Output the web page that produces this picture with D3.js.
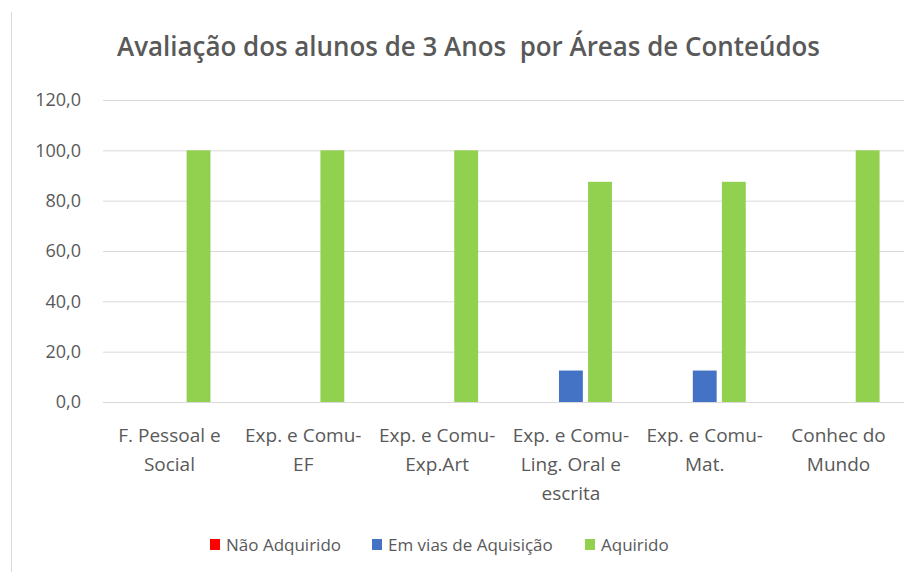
<!DOCTYPE html>
<html>
<head>
<meta charset="utf-8">
<script src="https://cdn.jsdelivr.net/npm/d3@7"></script>
<style>
  body { margin: 0; background: #fff; }
  text { font-family: "Open Sans", "Noto Sans", sans-serif; fill: #595959; }
</style>
</head>
<body>
<div id="chart"></div>
<script>
//data
var categories = [
    ["F. Pessoal e", "Social"],
    ["Exp. e Comu-", "EF"],
    ["Exp. e Comu-", "Exp.Art"],
    ["Exp. e Comu-", "Ling. Oral e", "escrita"],
    ["Exp. e Comu-", "Mat."],
    ["Conhec do", "Mundo"]
];
var seriesNames = ["Não Adquirido", "Em vias de Aquisição", "Aquirido"];
var naoAdquirido = [0, 0, 0, 0, 0, 0],
    emVias = [0, 0, 0, 12.5, 12.5, 0],
    aquirido = [100, 100, 100, 87.5, 87.5, 100];
var seriesColors = ["#ff0000", "#4472c4", "#92d050"];
var yTicks = [0, 20, 40, 60, 80, 100, 120];

var width = 904, height = 572,
    plotLeft = 103, plotRight = 905,
    plotTop = 100, plotBottom = 402;

var svg = d3.select("#chart")
    .append("svg")
    .attr("width", width)
    .attr("height", height);

//left border of the chart frame
svg.append("line")
    .attr("x1", 11.5).attr("x2", 11.5)
    .attr("y1", 12).attr("y2", height)
    .attr("stroke", "#d9d9d9");

//title (keeps the double space of the original)
svg.append("text")
    .attr("x", 468.5)
    .attr("y", 56)
    .attr("text-anchor", "middle")
    .style("font-size", "27px")
    .style("font-weight", "600")
    .style("white-space", "pre")
    .attr("textLength", 703)
    .attr("lengthAdjust", "spacingAndGlyphs")
    .text("Avaliação dos alunos de 3 Anos  por Áreas de Conteúdos");

var y = d3.scaleLinear()
    .domain([0, 120])
    .range([plotBottom, plotTop]);

var x0 = d3.scaleBand()
    .domain(d3.range(categories.length))
    .range([plotLeft, plotRight])
    .paddingInner(0.387)
    .paddingOuter(0.19);

var x1 = d3.scaleBand()
    .domain(d3.range(seriesNames.length))
    .range([0, x0.bandwidth()])
    .paddingInner(0.18)
    .paddingOuter(0);

//gridlines + y labels
var yAxis = svg.append("g")
    .attr("transform", "translate(" + plotLeft + ",0)")
    .call(d3.axisLeft(y)
        .tickValues(yTicks)
        .tickSize(-(plotRight - plotLeft))
        .tickPadding(22)
        .tickFormat(function(d) { return d.toFixed(1).replace(".", ","); }));
yAxis.select(".domain").remove();
yAxis.selectAll("line").attr("stroke", "#d9d9d9");
yAxis.selectAll("text")
    .style("font-size", "18px")
    .style("font-family", "'Open Sans', sans-serif")
    .attr("fill", "#595959");

//bars
var allSeries = [naoAdquirido, emVias, aquirido];
var groups = svg.selectAll(".grp")
    .data(categories)
    .enter()
    .append("g")
    .attr("class", "grp")
    .attr("transform", function(d, i) { return "translate(" + x0(i) + ",0)"; });

groups.selectAll("rect")
    .data(function(d, i) { return allSeries.map(function(s, j) { return {s: j, v: s[i]}; }); })
    .enter()
    .append("rect")
    .attr("x", function(d) { return x1(d.s); })
    .attr("y", function(d) { return y(d.v); })
    .attr("width", x1.bandwidth())
    .attr("height", function(d) { return y(0) - y(d.v); })
    .style("fill", function(d) { return seriesColors[d.s]; });

//x axis labels
var xAxis = svg.append("g")
    .attr("transform", "translate(0," + plotBottom + ")")
    .call(d3.axisBottom(x0).tickSize(0).tickFormat(""));
xAxis.select(".domain").attr("stroke", "#d9d9d9");

svg.selectAll(".xlab")
    .data(categories)
    .enter()
    .append("text")
    .attr("class", "xlab")
    .attr("text-anchor", "middle")
    .style("font-size", "19px")
    .each(function(d, i) {
        var t = d3.select(this);
        d.forEach(function(line, k) {
            t.append("tspan")
                .attr("x", x0(i) + x0.bandwidth() / 2)
                .attr("y", 442 + k * 29)
                .text(line);
        });
    });

//legend
var legendX = [210, 372, 585];
var legend = svg.selectAll(".legend")
    .data(seriesNames)
    .enter()
    .append("g")
    .attr("class", "legend")
    .attr("transform", function(d, i) { return "translate(" + legendX[i] + ",539)"; });
legend.append("rect")
    .attr("width", 10).attr("height", 11)
    .style("fill", function(d, i) { return seriesColors[i]; });
legend.append("text")
    .attr("x", 16)
    .attr("y", 12)
    .style("font-size", "17px")
    .text(function(d) { return d; });
</script>
</body>
</html>
